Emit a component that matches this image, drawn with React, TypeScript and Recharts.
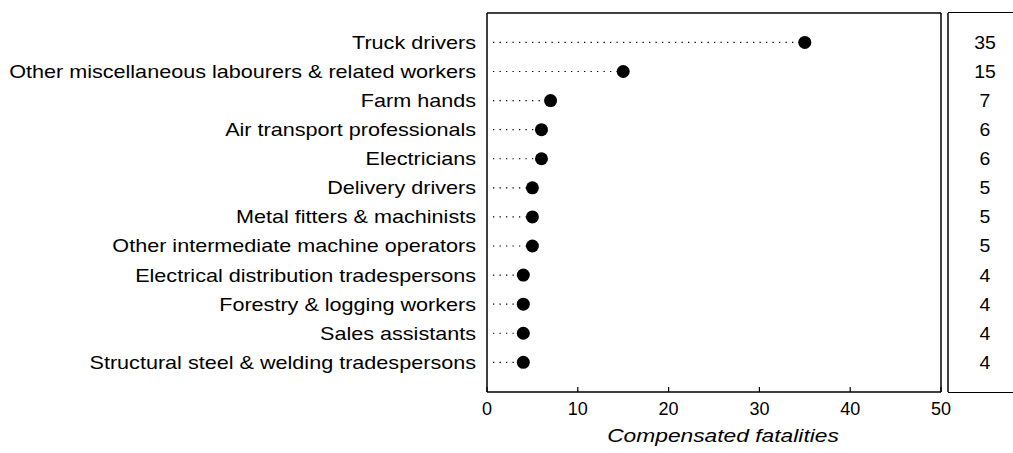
import { BarChart, Bar, XAxis, YAxis } from 'recharts';

const categories = [
  'Truck drivers',
  'Other miscellaneous labourers & related workers',
  'Farm hands',
  'Air transport professionals',
  'Electricians',
  'Delivery drivers',
  'Metal fitters & machinists',
  'Other intermediate machine operators',
  'Electrical distribution tradespersons',
  'Forestry & logging workers',
  'Sales assistants',
  'Structural steel & welding tradespersons',
];
const fatalities = [35, 15, 7, 6, 6, 5, 5, 5, 4, 4, 4, 4];
const xTicks = [0, 10, 20, 30, 40, 50];
const axisTitle = 'Compensated fatalities';

const data = categories.map((name, i) => ({ name, value: fatalities[i] }));

const FONT = '"Liberation Sans", Arial, sans-serif';

// dotted leader line + filled dot at the end of each "bar"
const DotLine = (props: any) => {
  const { x, y, width, height } = props;
  const cy = y + height / 2;
  return (
    <g>
      <line x1={x + 6} x2={x + width} y1={cy} y2={cy} stroke="#000" strokeWidth={1.2} strokeDasharray="1.3 5.2" />
      <circle cx={x + width} cy={cy} r={6.5} fill="#000" />
    </g>
  );
};

const CatTick = ({ x, y, payload }: any) => (
  <text
    x={0}
    y={0}
    transform={`translate(${x},${y}) scale(1.2,1)`}
    textAnchor="end"
    dy="0.35em"
    fontSize={18}
    fill="#000"
    fontFamily={FONT}
  >
    {payload.value}
  </text>
);

const ValTick = ({ x, y, index }: any) => (
  <text
    x={0}
    y={0}
    transform={`translate(${x + 37},${y}) scale(1.08,1)`}
    textAnchor="middle"
    dy="0.35em"
    fontSize={18}
    fill="#000"
    fontFamily={FONT}
  >
    {fatalities[index]}
  </text>
);

const XTitle = ({ viewBox }: any) => {
  const cx = viewBox.x + viewBox.width / 2 + 9;
  return (
    <text
      x={0}
      y={0}
      transform={`translate(${cx},${viewBox.y + viewBox.height - 11}) scale(1.2,1)`}
      textAnchor="middle"
      fontSize={19}
      fontStyle="italic"
      fill="#000"
      fontFamily={FONT}
    >
      {axisTitle}
    </text>
  );
};

const axisLine = { stroke: '#000', strokeWidth: 1.5 };

export default function App() {
  return (
    <div style={{ position: 'absolute', left: 0, top: 0, width: 1013, height: 453, overflow: 'hidden', background: '#fff' }}>
      <BarChart
        width={1013}
        height={453}
        layout="vertical"
        data={data}
        margin={{ top: 11, right: 0, bottom: 0, left: 0 }}
      >
        <XAxis
          type="number"
          domain={[0, 50]}
          ticks={xTicks}
          interval={0}
          height={61}
          tickSize={-5}
          tickMargin={15}
          axisLine={axisLine}
          tickLine={{ stroke: '#000', strokeWidth: 1.2 }}
          tick={{ fontSize: 18, fill: '#000', fontFamily: FONT }}
          label={{ content: XTitle }}
        />
        <XAxis
          xAxisId="top"
          orientation="top"
          type="number"
          domain={[0, 50]}
          ticks={xTicks}
          height={2}
          tick={false}
          tickLine={false}
          axisLine={axisLine}
        />
        <YAxis
          type="category"
          dataKey="name"
          width={487}
          padding={{ top: 15, bottom: 15 }}
          tickLine={false}
          tickSize={0}
          tickMargin={11}
          interval={0}
          tick={CatTick}
          axisLine={axisLine}
        />
        <YAxis
          yAxisId="edge"
          orientation="right"
          type="category"
          dataKey="name"
          width={7}
          padding={{ top: 15, bottom: 15 }}
          tick={false}
          tickLine={false}
          axisLine={axisLine}
        />
        <YAxis
          yAxisId="vals"
          orientation="right"
          type="category"
          dataKey="name"
          width={65}
          padding={{ top: 15, bottom: 15 }}
          tickLine={false}
          tickSize={0}
          tickMargin={0}
          interval={0}
          tick={ValTick}
          axisLine={axisLine}
        />
        <Bar dataKey="value" shape={DotLine} isAnimationActive={false} />
      </BarChart>
      <div
        style={{
          position: 'absolute',
          left: 948,
          top: 12,
          width: 65,
          height: 381,
          borderTop: '1.5px solid #000',
          borderBottom: '1.5px solid #000',
          boxSizing: 'border-box',
        }}
      />
    </div>
  );
}
